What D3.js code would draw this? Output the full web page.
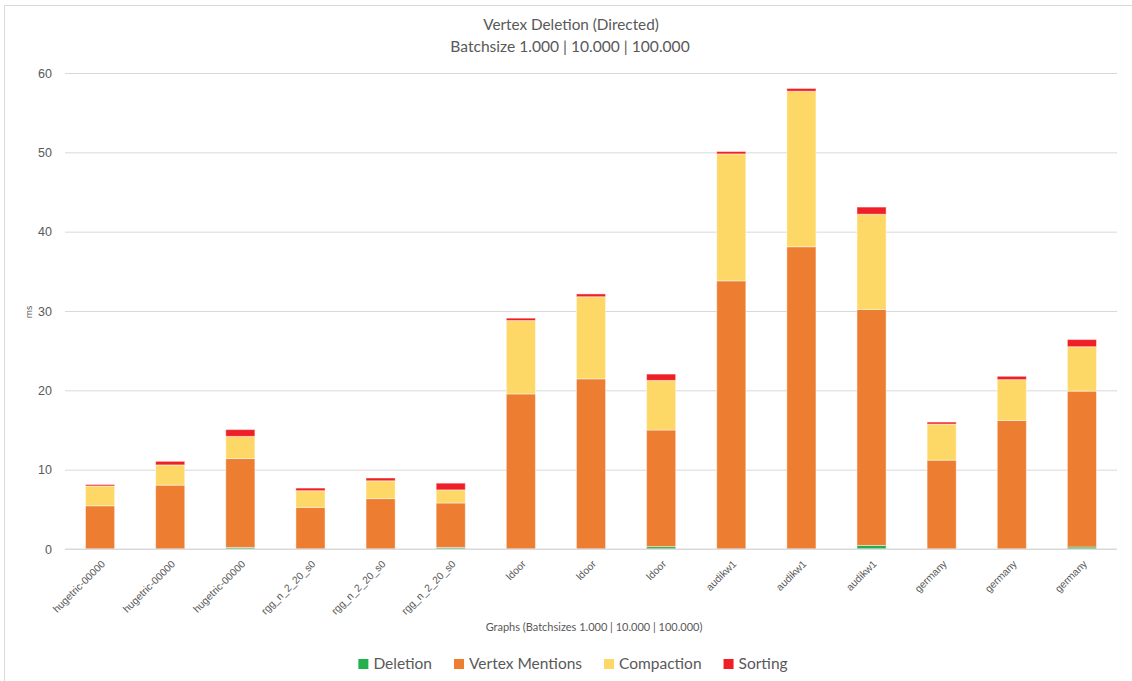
<!DOCTYPE html>
<html>
<head>
<meta charset="utf-8">
<script src="https://cdn.jsdelivr.net/npm/d3@7"></script>
<style>
  html, body { margin: 0; padding: 0; background: #fff; }
  svg { display: block; font-family: Lato, "Open Sans", sans-serif; }
</style>
</head>
<body>
<svg id="chart" width="1132" height="681"></svg>
<script>
// Graph names, one bar per batch size (1.000 | 10.000 | 100.000)
const categories = [
  "hugetric-00000", "hugetric-00000", "hugetric-00000",
  "rgg_n_2_20_s0", "rgg_n_2_20_s0", "rgg_n_2_20_s0",
  "ldoor", "ldoor", "ldoor",
  "audikw1", "audikw1", "audikw1",
  "germany", "germany", "germany"
];

// Time per phase, in ms
const deletion       = [0, 0, 0.2, 0, 0, 0.2, 0, 0, 0.3, 0, 0, 0.45, 0, 0, 0.25];
const vertexMentions = [5.45, 8.05, 11.2, 5.25, 6.35, 5.6, 19.55, 21.45, 14.7, 33.8, 38.1, 29.75, 11.2, 16.2, 19.65];
const compaction     = [2.5, 2.55, 2.8, 2.1, 2.25, 1.65, 9.25, 10.35, 6.25, 16.0, 19.6, 12.0, 4.55, 5.15, 5.6];
const sorting        = [0.18, 0.45, 0.85, 0.33, 0.35, 0.85, 0.3, 0.35, 0.8, 0.3, 0.35, 0.9, 0.25, 0.42, 0.9];

const seriesNames = ["Deletion", "Vertex Mentions", "Compaction", "Sorting"];
const seriesColors = ["#22b14c", "#ed7d31", "#fdd866", "#ee1f26"];
const yTicks = [0, 10, 20, 30, 40, 50, 60];

const rows = categories.map((c, i) => ({
  idx: i,
  "Deletion": deletion[i],
  "Vertex Mentions": vertexMentions[i],
  "Compaction": compaction[i],
  "Sorting": sorting[i]
}));

const svg = d3.select("#chart");
const textColor = "#595959";
const gridColor = "#d9d9d9";

// chart frame
svg.append("rect")
  .attr("x", 4.5).attr("y", 5.5)
  .attr("width", 1140).attr("height", 690)
  .attr("fill", "none").attr("stroke", gridColor);

const plot = { left: 65, right: 1117, top: 73, bottom: 549 };

const x = d3.scaleBand()
  .domain(d3.range(categories.length))
  .range([plot.left, plot.right])
  .paddingInner(0.585)
  .paddingOuter(0.2925);

const y = d3.scaleLinear().domain([0, 60]).range([plot.bottom, plot.top]);

// horizontal gridlines + y labels
const yAxis = d3.axisLeft(y).tickValues(yTicks).tickSize(-(plot.right - plot.left)).tickPadding(13);
const gy = svg.append("g").attr("transform", `translate(${plot.left},0)`).call(yAxis);
gy.select(".domain").remove();
gy.selectAll(".tick line").attr("stroke", gridColor).attr("stroke-width", 1);
gy.selectAll(".tick text").attr("fill", textColor).style("font-size", "12.5px");

// stacked bars
const stack = d3.stack().keys(seriesNames);
const layers = stack(rows);

svg.append("g").selectAll("g")
  .data(layers)
  .join("g")
  .attr("fill", (d, i) => seriesColors[i])
  .selectAll("rect")
  .data(d => d.filter(s => s[1] - s[0] > 0))
  .join("rect")
  .attr("x", d => x(d.data.idx))
  .attr("width", x.bandwidth())
  .attr("y", d => y(d[1]))
  .attr("height", d => y(d[0]) - y(d[1]))
  .attr("stroke", "#ffffff")
  .attr("stroke-opacity", 0.45)
  .attr("stroke-width", 1);

// x axis labels
const xAxis = d3.axisBottom(x).tickSize(0).tickFormat(i => categories[i]);
const gx = svg.append("g").attr("transform", `translate(0,${plot.bottom})`).call(xAxis);
gx.select(".domain").remove();
gx.selectAll(".tick text")
  .attr("fill", textColor)
  .style("font-size", "10.3px")
  .attr("text-anchor", "end")
  .attr("dy", "0.35em")
  .attr("transform", "translate(1,11) rotate(-45)");

// baseline
svg.append("line")
  .attr("x1", plot.left).attr("x2", plot.right)
  .attr("y1", y(0)).attr("y2", y(0))
  .attr("stroke", gridColor);

// titles
svg.append("text")
  .attr("x", 571).attr("y", 30)
  .attr("text-anchor", "middle").attr("fill", textColor)
  .style("font-size", "15.3px")
  .text("Vertex Deletion (Directed)");
svg.append("text")
  .attr("x", 570).attr("y", 52)
  .attr("text-anchor", "middle").attr("fill", textColor)
  .style("font-size", "15.6px")
  .text("Batchsize 1.000 | 10.000 | 100.000");

// axis titles
svg.append("text")
  .attr("x", (plot.left + plot.right) / 2 + 3).attr("y", 631)
  .attr("text-anchor", "middle").attr("fill", textColor)
  .style("font-size", "11px")
  .text("Graphs (Batchsizes 1.000 | 10.000 | 100.000)");
svg.append("text")
  .attr("transform", "translate(32,312) rotate(-90)")
  .attr("text-anchor", "middle").attr("fill", textColor)
  .style("font-size", "10px")
  .text("ms");

// legend, centred under the plot
const legend = svg.append("g");
const items = legend.selectAll("g").data(seriesNames).join("g");
items.append("rect")
  .attr("width", 10).attr("height", 10)
  .attr("y", 659)
  .attr("fill", (d, i) => seriesColors[i]);
items.append("text")
  .attr("x", 15).attr("y", 668.5)
  .attr("fill", textColor)
  .style("font-size", "15.5px")
  .text(d => d);
let cursor = 0;
const gap = 22;
const widths = [];
items.each(function () {
  widths.push(15 + d3.select(this).select("text").node().getComputedTextLength());
});
const total = d3.sum(widths) + gap * (widths.length - 1);
cursor = 573 - total / 2;
items.attr("transform", (d, i) => {
  const t = `translate(${cursor},0)`;
  cursor += widths[i] + gap;
  return t;
});
</script>
</body>
</html>
